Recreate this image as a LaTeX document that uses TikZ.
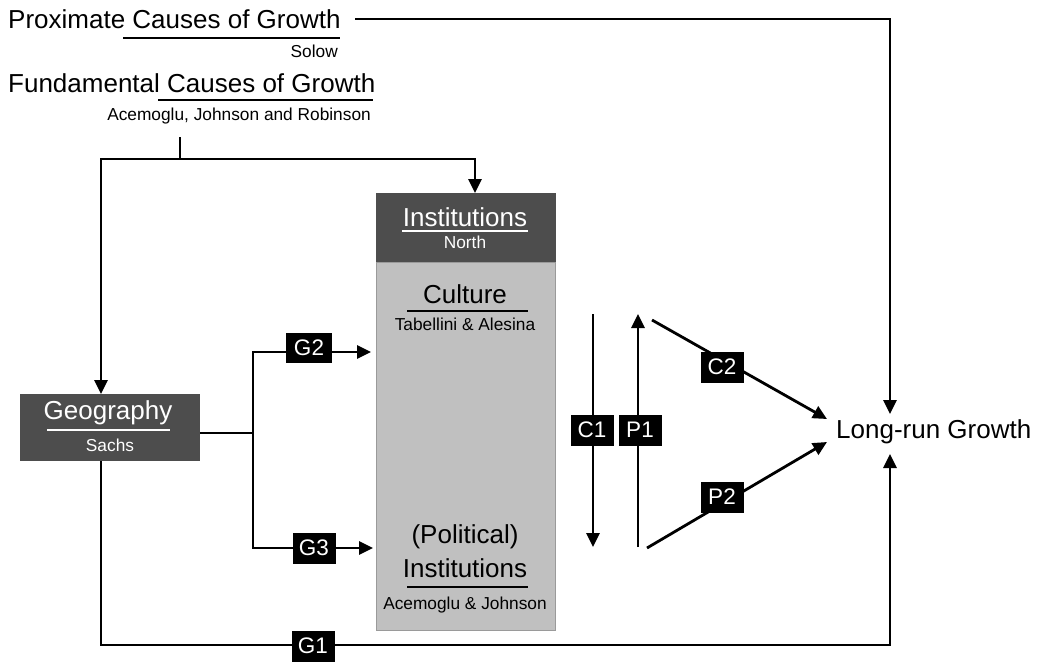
\documentclass[tikz,border=0pt]{standalone}
\usepackage{fontspec}
\setmainfont{Liberation Sans}
\usetikzlibrary{arrows.meta}
\definecolor{darkbox}{HTML}{4D4D4D}
\definecolor{lightbox}{HTML}{C0C0C0}
\definecolor{boxedge}{HTML}{9A9A9A}
\tikzset{
  conn/.style={line width=2.8pt, -{Triangle[length=14pt,width=13pt]}},
  plain/.style={line width=2.8pt},
  ul/.style={line width=2.6pt},
  lab/.style={fill=black, text=white, font=\fontsize{22.5}{22.5}\selectfont, inner sep=0pt,
              minimum width=43pt, minimum height=31pt},
  big/.style={font=\fontsize{26}{26}\selectfont, inner sep=0pt},
  small/.style={font=\fontsize{17.3}{17.3}\selectfont, inner sep=0pt},
}
\begin{document}
\begin{tikzpicture}[x=1pt,y=-1pt]
\useasboundingbox (0,0) rectangle (1037,664);

% boxes
\node[fill=lightbox, draw=boxedge, line width=1pt, minimum width=179pt, minimum height=368pt, inner sep=0pt] (instbody) at (465.5,446) {};
\node[fill=darkbox, minimum width=180pt, minimum height=69pt, inner sep=0pt] (insthead) at (465.5,227.5) {};
\node[fill=darkbox, minimum width=180pt, minimum height=67pt, inner sep=0pt] (geo) at (110,427.5) {};

% titles top-left
\node[big, anchor=base west] (prox) at (8,28) {Proximate Causes of Growth};
\draw[ul] (123,38) -- (340,38);
\node[small, anchor=base east] (solow) at (338,57) {Solow};
\node[big, anchor=base west] (fund) at (8,92) {Fundamental Causes of Growth};
\draw[ul] (158,100) -- (373,100);
\node[small, anchor=base east] (ajr) at (371,120) {Acemoglu, Johnson and Robinson};

% institutions header text
\node[big, text=white] (insttxt) at (465,217) {Institutions};
\draw[white, line width=1.8pt] (402,231) -- (528,231);
\node[small, text=white] (north) at (465,242) {North};

% culture
\node[big] (cult) at (465,294) {Culture};
\draw[ul] (407,311) -- (528,311);
\node[small] (tab) at (465,324) {Tabellini \& Alesina};

% political institutions
\node[big] (pol) at (465,537) {(Political)};
\node[big] (pinst) at (465,568) {Institutions};
\draw[ul] (407,587) -- (528,587);
\node[small] (aj) at (465,605) {Acemoglu \& Johnson};

% geography text
\node[big, text=white] (geotxt) at (108,413) {Geography};
\draw[white, line width=1.8pt] (47,430) -- (170,430);
\node[small, text=white] (sachs) at (110,445) {Sachs};

% long-run growth
\node[big, anchor=base west] (grow) at (836,438) {Long-run Growth};

% coordinates
\coordinate (proxend) at (355,19);
\coordinate (growtop) at (890,414);
\coordinate (growbot) at (890,454);
\coordinate (fstart) at (180,137);
\coordinate (fj) at (180,159);
\coordinate (geotop) at (101,394);
\coordinate (insttop) at (475,193);
\coordinate (geoout) at (200,433);
\coordinate (gsplit) at (253,433);
\coordinate (g2end) at (371,352);
\coordinate (g3end) at (373,548);
\coordinate (geobot) at (101,461);
\coordinate (c1s) at (593,314);
\coordinate (c1e) at (593,547);
\coordinate (p1s) at (638,547);
\coordinate (p1e) at (638,314);
\coordinate (c2s) at (652,320);
\coordinate (c2e) at (827,419);
\coordinate (p2s) at (647,548);
\coordinate (p2e) at (827,442);

% connectors
\draw[conn] (proxend) -| (growtop);
\draw[plain] (fstart) -- (fj);
\draw[conn] (fj) -| (geotop);
\draw[conn] (fj) -| (insttop);
\draw[plain] (geoout) -- (gsplit);
\draw[conn] (gsplit) |- (g2end);
\draw[conn] (gsplit) |- (g3end);
\draw[conn] (geobot) |- (890,645) -- (growbot);
\draw[conn] (c1s) -- (c1e);
\draw[conn] (p1s) -- (p1e);
\draw[conn] (c2s) -- (c2e);
\draw[conn] (p2s) -- (p2e);

% labels
\node[lab, minimum width=46pt, minimum height=30pt] (G2) at (309,348) {G2};
\node[lab] (G3) at (314,548) {G3};
\node[lab] (G1) at (313,646) {G1};
\node[lab] (C1) at (592,430) {C1};
\node[lab] (P1) at (640,430) {P1};
\node[lab] (C2) at (722,367) {C2};
\node[lab] (P2) at (722,497) {P2};
\end{tikzpicture}
\end{document}
